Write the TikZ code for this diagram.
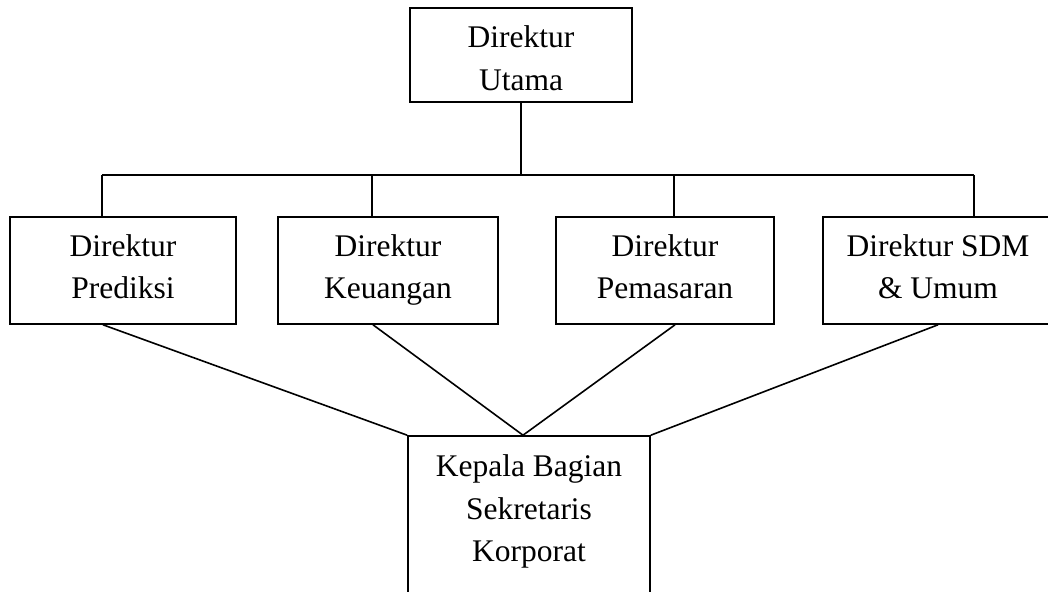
\documentclass[tikz,border=0pt]{standalone}
\usepackage{fontspec}
\setmainfont{Liberation Serif}
\usetikzlibrary{calc}
\tikzset{
  orgbox/.style={draw, line width=1.6pt, inner sep=0pt, align=center,
    text depth=0pt, font=\fontsize{31.5}{42.5}\selectfont},
  link/.style={line width=1.6pt}
}
\begin{document}
\begin{tikzpicture}[x=1pt,y=-1pt]
\useasboundingbox (0,0) rectangle (1048,591);
\clip (0,0) rectangle (1048,591);
\fill[white] (0,0) rectangle (1048,591);
% boxes
\node[orgbox, minimum width=222pt, minimum height=94pt, text height=70.5pt] (top) at (521,55) {Direktur\\Utama};
\node[orgbox, minimum width=226pt, minimum height=107pt, text height=56.5pt] (pred) at (123,270.5) {Direktur\\Prediksi};
\node[orgbox, minimum width=220pt, minimum height=107pt, text height=56.5pt] (keu) at (388,270.5) {Direktur\\Keuangan};
\node[orgbox, minimum width=218pt, minimum height=107pt, text height=56.5pt] (pem) at (665,270.5) {Direktur\\Pemasaran};
\node[orgbox, minimum width=230pt, minimum height=107pt, text height=56.5pt] (sdm) at (938,270.5) {Direktur SDM\\\& Umum};
\node[orgbox, minimum width=242pt, minimum height=204pt, text height=47pt] (kbs) at (529,538) {Kepala Bagian\\Sekretaris\\Korporat};
% bar junctions
\coordinate (bL) at (102,175);
\coordinate (bK) at (372,175);
\coordinate (bP) at (674,175);
\coordinate (bR) at (974,175);
\draw[link] (bL) -- (bR);
\draw[link] (top.south) -- (top.south |- bL);
\draw[link] (bL) -- (bL |- pred.north);
\draw[link] (bK) -- (bK |- keu.north);
\draw[link] (bP) -- (bP |- pem.north);
\draw[link] (bR) -- (bR |- sdm.north);
% lines to bottom box
\coordinate (apex) at ($(kbs.north)+(-6,0)$);
\draw[link] ($(pred.south)+(-20,0)$) -- (kbs.north west);
\draw[link] ($(keu.south)+(-15,0)$) -- (apex);
\draw[link] ($(pem.south)+(10,0)$) -- (apex);
\draw[link] (sdm.south) -- (kbs.north east);
\end{tikzpicture}
\end{document}
